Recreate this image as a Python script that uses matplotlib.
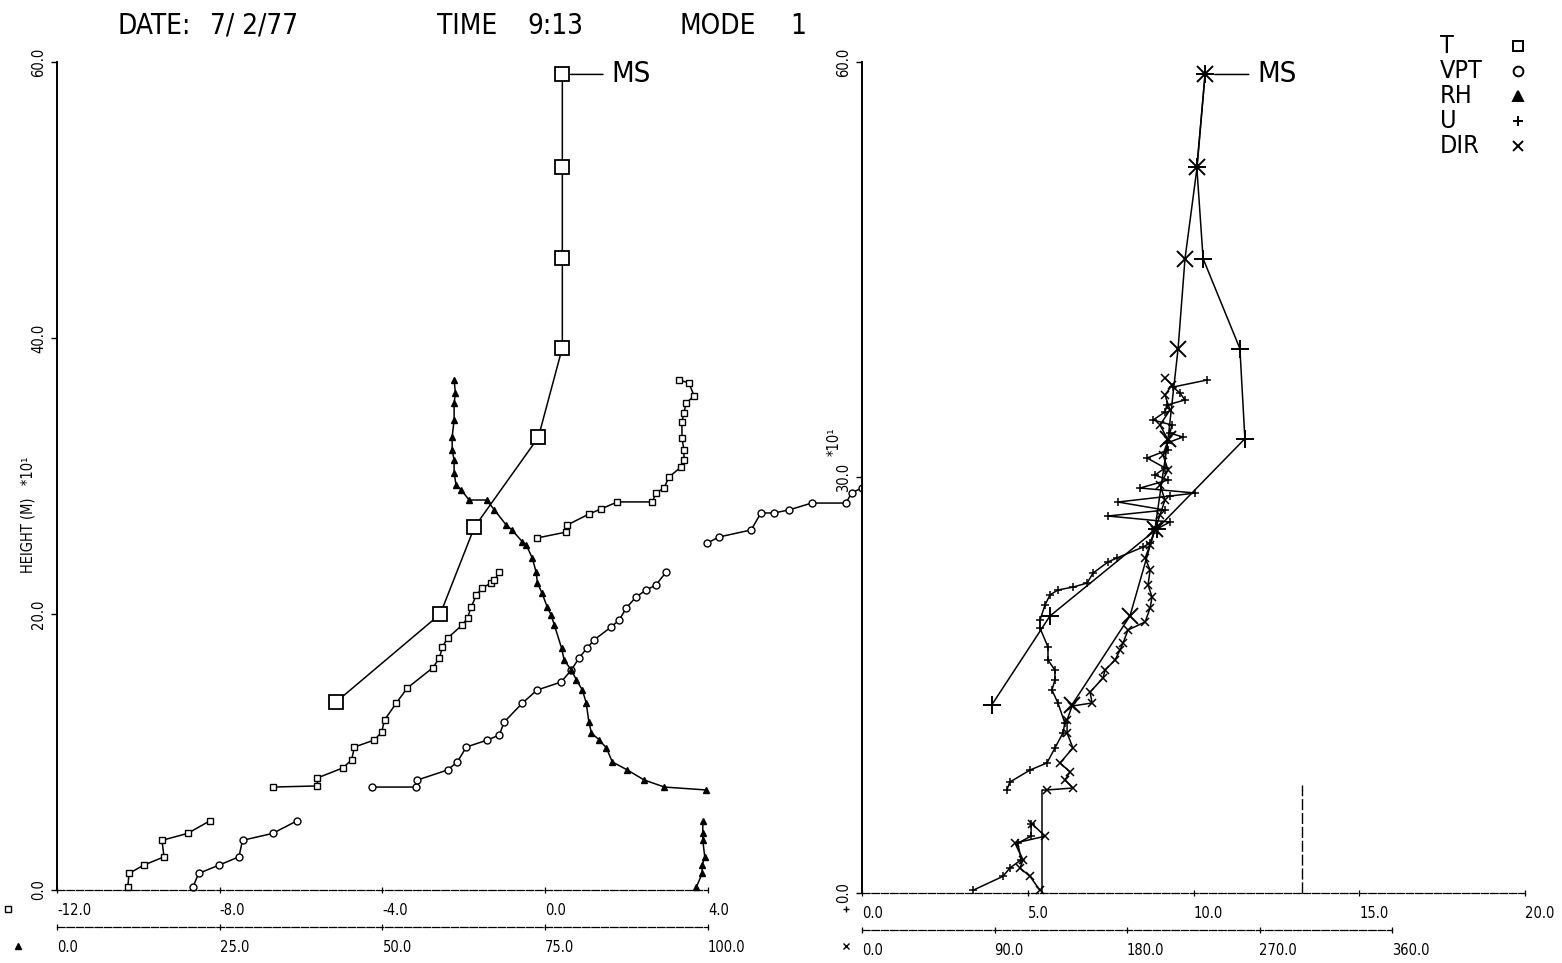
import matplotlib
matplotlib.use('Agg')
import matplotlib.pyplot as plt
from matplotlib.lines import Line2D

plt.rcParams['font.family'] = ['DejaVu Sans']
plt.rcParams['font.stretch'] = 'condensed'

W, H = 1562, 963

# ---------------- data ----------------
# main (mast / sonde "MS") levels, height *10 m
H_MS = [59.1, 52.4, 45.8, 39.3, 32.8, 26.3, 20.0, 13.6]
T_MS = [0.42, 0.42, 0.42, 0.42, -0.17, -1.74, -2.58, -5.15]
U_MS = [10.35, 10.1, 10.29, 11.4, 11.55, 8.9, 5.67, 3.92]
DIR_MS = [233.0, 227.6, 219.4, 214.7, 207.9, 199.0, 182.0, 142.7]

# tower levels
H_TOWER = [0.2, 1.2, 1.8, 2.4, 3.6, 4.1, 5.0]
T_TOWER = [-10.26, -10.23, -9.87, -9.37, -9.42, -8.79, -8.25]
VPT_TOWER = [-8.66, -8.52, -8.02, -7.53, -7.44, -6.70, -6.11]
RH_TOWER = [98.2, 99.1, 99.1, 99.5, 99.2, 99.2, 99.2]
U_TOWER = [3.35, 4.25, 4.46, 4.8, 4.7, 5.1, 5.1]
DIR_TOWER = [120.9, 114.1, 107.3, 109.4, 103.9, 124.3, 115.5]

# tethersonde, lower part
H_T_LOW = [7.46, 7.54, 8.12, 8.84, 9.42, 10.36, 10.87, 11.45, 12.32, 13.55, 14.64,
           16.09, 16.81, 17.61, 18.26, 19.2, 19.71, 20.51, 21.38, 21.88, 22.25, 22.46, 23.04]
T_LOW = [-6.70, -5.60, -5.60, -4.98, -4.76, -4.69, -4.20, -4.02, -3.95, -3.66, -3.39,
         -2.77, -2.60, -2.53, -2.40, -2.04, -1.91, -1.82, -1.69, -1.55, -1.33, -1.25, -1.13]
H_T_UP = [25.51, 25.94, 26.45, 27.25, 27.61, 28.12, 28.12, 28.77, 29.13, 29.93, 30.65,
          31.16, 31.88, 32.75, 33.91, 34.57, 35.29, 35.80, 36.74, 36.96]
T_UP = [-0.20, 0.52, 0.54, 1.08, 1.37, 1.77, 2.63, 2.72, 2.92, 3.04, 3.34,
        3.41, 3.41, 3.36, 3.36, 3.41, 3.46, 3.66, 3.53, 3.29]

H_VPT_LOW = [7.46, 7.46, 7.97, 8.70, 9.28, 10.36, 10.87, 11.23, 12.17, 13.55, 14.49,
             15.07, 15.94, 16.81, 17.54, 18.12, 19.06, 19.57, 20.43, 21.23, 21.74, 22.10, 23.04]
VPT_LOW = [-4.27, -3.17, -3.14, -2.40, -2.16, -1.94, -1.42, -1.13, -1.01, -0.56, -0.20,
           0.39, 0.64, 0.83, 1.03, 1.20, 1.62, 1.82, 1.99, 2.23, 2.48, 2.72, 2.97]
H_VPT_UP = [25.14, 25.58, 26.09, 27.32, 27.32, 27.54, 28.04, 28.04, 28.77, 29.13, 30.07,
            30.80, 31.88, 32.75, 34.28, 35.29, 36.01, 36.96, 37.10]
VPT_UP = [3.98, 4.27, 5.06, 5.30, 5.62, 5.99, 6.55, 7.39, 7.53, 7.78, 8.02,
          8.44, 8.64, 8.69, 8.81, 8.98, 9.18, 9.01, 9.23]

H_RH = [7.25, 7.46, 7.97, 8.70, 9.28, 10.29, 10.87, 11.38, 12.17, 13.55, 14.49, 15.22,
        15.94, 16.67, 17.54, 19.20, 19.93, 20.51, 21.52, 22.25, 23.04, 24.06, 25.0, 25.22,
        26.09, 26.45, 27.54, 28.26, 28.26, 28.99, 29.35, 30.22, 31.16, 31.88, 32.83,
        34.06, 35.29, 36.01, 36.96]
RH = [99.7, 93.3, 90.2, 87.6, 85.3, 84.4, 83.3, 82.1, 81.7, 81.3, 80.7, 79.8,
      79.0, 77.9, 77.5, 76.4, 75.9, 75.3, 74.5, 73.8, 73.6, 73.0, 72.1, 71.5,
      69.9, 69.0, 67.2, 66.0, 63.3, 62.1, 61.3, 61.0, 61.0, 60.7, 60.7,
      61.0, 61.0, 61.2, 61.0]

H_U = [7.44, 8.01, 8.88, 9.39, 10.47, 11.55, 12.27, 13.72, 14.66, 15.38, 16.1, 16.82,
       17.76, 19.13, 19.71, 20.79, 21.52, 21.88, 22.09, 22.38, 23.1, 23.9, 24.19, 24.98,
       25.27, 26.21, 26.79, 27.22, 27.65, 28.23, 28.66, 28.88, 29.24, 29.82, 30.18,
       30.69, 31.41, 31.99, 32.49, 32.92, 33.21, 33.79, 34.15, 34.73, 35.23, 35.6,
       36.1, 36.53, 37.04]
U = [4.37, 4.46, 5.07, 5.58, 5.82, 6.06, 6.12, 5.91, 5.73, 5.82, 5.82, 5.61,
     5.61, 5.37, 5.37, 5.52, 5.67, 5.91, 6.37, 6.79, 6.97, 7.42, 7.69, 8.48,
     8.69, 8.84, 9.29, 7.42, 9.14, 7.72, 9.29, 10.05, 8.39, 9.23, 8.84,
     9.14, 8.60, 9.23, 9.20, 9.68, 9.29, 9.35, 8.78, 9.14, 9.20, 9.74,
     9.59, 9.38, 10.41]

H_DIR = [7.44, 7.58, 8.16, 8.74, 9.39, 10.47, 11.55, 12.49, 13.5, 13.72, 14.51, 15.52,
         16.1, 16.82, 17.55, 18.05, 18.99, 19.57, 20.58, 21.37, 22.24, 23.32, 24.19,
         25.13, 26.21, 27.29, 28.38, 29.46, 30.54, 31.62, 32.71, 33.79, 34.87, 35.96,
         36.68, 37.18]
DIR = [125.7, 143.3, 137.9, 141.3, 134.5, 143.3, 139.3, 139.3, 142.7, 156.3, 154.9, 163.7,
       165.1, 171.9, 175.3, 177.3, 180.7, 192.3, 195.7, 197.0, 194.3, 195.7, 192.3,
       195.7, 199.0, 202.4, 205.8, 202.4, 207.9, 204.5, 207.9, 202.4, 209.2, 205.8,
       210.6, 205.8]

H_DIR_LINK = [0.0, 7.44]
DIR_LINK = [122.3, 122.3]
H_UREF = [0.0, 7.8]
U_REF = [13.27, 13.27]

T_TICKS = [-12, -8, -4, 0, 4]
T_LABELS = ['-12.0', '-8.0', '-4.0', '0.0', '4.0']
RH_TICKS = [0, 25, 50, 75, 100]
RH_LABELS = ['0.0', '25.0', '50.0', '75.0', '100.0']
U_TICKS = [0, 5, 10, 15, 20]
U_LABELS = ['0.0', '5.0', '10.0', '15.0', '20.0']
DIR_TICKS = [0, 90, 180, 270, 360]
DIR_LABELS = ['0.0', '90.0', '180.0', '270.0', '360.0']
HL_TICKS = [0, 20, 40, 60]
HL_LABELS = ['0.0', '20.0', '40.0', '60.0']
HR_TICKS = [0, 30, 60]
HR_LABELS = ['0.0', '30.0', '60.0']

LEGEND_NAMES = ['T', 'VPT', 'RH', 'U', 'DIR']
LEGEND_MARKERS = ['s', 'o', '^', '+', 'x']

# ---------------- figure ----------------
fig = plt.figure(figsize=(W / 100, H / 100), dpi=100)
fig.patch.set_facecolor('white')


def fx(x):
    return x / W


def fy(y):
    return 1 - y / H


K = 'black'
LW = 1.1
small = dict(color=K, lw=LW, ms=5, mfc='white', mec=K, mew=1.0, clip_on=False)

# left panel
rectL = [fx(57), fy(890), (708 - 57) / W, (890 - 62) / H]
axL = fig.add_axes(rectL)
axL.set_xlim(-12, 4)
axL.set_ylim(0, 60)
axRH = fig.add_axes(rectL)
axRH.set_xlim(0, 100)
axRH.set_ylim(0, 60)
axRH.patch.set_visible(False)

# right panel
rectR = [fx(862), fy(893), (1525 - 862) / W, (893 - 62) / H]
axR = fig.add_axes(rectR)
axR.set_xlim(0, 20)
axR.set_ylim(0, 60)
axD = fig.add_axes([fx(862), fy(893), (1392 - 862) / W, (893 - 62) / H])
axD.set_xlim(0, 360)
axD.set_ylim(0, 60)
axD.patch.set_visible(False)

for a in (axL, axR):
    a.spines['top'].set_visible(False)
    a.spines['right'].set_visible(False)
    a.spines['left'].set_linewidth(1.4)
    a.spines['bottom'].set_linewidth(0.9)
    a.spines['bottom'].set_linestyle((0, (6, 1.5)))

for a, hpx in ((axRH, 828), (axD, 831)):
    for s in ('top', 'right', 'left'):
        a.spines[s].set_visible(False)
    a.spines['bottom'].set_position(('axes', -37 / hpx))
    a.spines['bottom'].set_linewidth(0.9)
    a.spines['bottom'].set_linestyle((0, (6, 1.5)))
    a.set_yticks([])

tick_font = dict(fontsize=10.5)


def set_xt(a, ticks, labels):
    a.set_xticks(ticks)
    a.set_xticklabels(labels, **tick_font)
    for lab in a.get_xticklabels():
        lab.set_ha('left')
    a.tick_params(axis='x', direction='inout', length=5, width=0.9, pad=7)


set_xt(axL, T_TICKS, T_LABELS)
set_xt(axRH, RH_TICKS, RH_LABELS)
set_xt(axR, U_TICKS, U_LABELS)
set_xt(axD, DIR_TICKS, DIR_LABELS)

axL.set_yticks(HL_TICKS)
axL.set_yticklabels(HL_LABELS, rotation=90, va='center', fontsize=10.5)
axL.tick_params(axis='y', direction='out', length=4, width=1, pad=4)
axR.set_yticks(HR_TICKS)
axR.set_yticklabels(HR_LABELS, rotation=90, va='center', fontsize=10.5)
axR.tick_params(axis='y', direction='out', length=4, width=1, pad=4)

# ---- left panel data ----
axL.plot(T_MS, H_MS, color=K, lw=LW, marker='s', ms=10, mfc='white', mec=K, mew=1.3, clip_on=False)
axL.annotate('MS', xy=(T_MS[0], H_MS[0]), xytext=(49, 0), textcoords='offset pixels',
             ha='left', va='center', fontsize=21,
             arrowprops=dict(arrowstyle='-', color=K, lw=1.1, shrinkA=4, shrinkB=6))
axL.plot(T_TOWER, H_TOWER, marker='s', **small)
axL.plot(VPT_TOWER, H_TOWER, marker='o', **small)
axL.plot(T_LOW, H_T_LOW, marker='s', **small)
axL.plot(T_UP, H_T_UP, marker='s', **small)
axL.plot(VPT_LOW, H_VPT_LOW, marker='o', **small)
axL.plot(VPT_UP, H_VPT_UP, marker='o', **small)
axRH.plot(RH_TOWER, H_TOWER, color=K, lw=LW, marker='^', ms=4.5, mfc=K, mec=K, clip_on=False)
axRH.plot(RH, H_RH, color=K, lw=LW, marker='^', ms=4.5, mfc=K, mec=K, clip_on=False)

# ---- right panel data ----
axR.plot(U_MS, H_MS, color=K, lw=LW, marker='+', ms=13, mew=1.4, clip_on=False)
axD.plot(DIR_MS, H_MS, color=K, lw=LW, marker='x', ms=11, mew=1.4, clip_on=False)
axR.annotate('MS', xy=(U_MS[0], H_MS[0]), xytext=(52, 0), textcoords='offset pixels',
             ha='left', va='center', fontsize=21,
             arrowprops=dict(arrowstyle='-', color=K, lw=1.1, shrinkA=4, shrinkB=7))
axR.plot(U_TOWER, H_TOWER, color=K, lw=LW, marker='+', ms=6, mew=1.1, clip_on=False)
axR.plot(U, H_U, color=K, lw=LW, marker='+', ms=6, mew=1.1, clip_on=False)
axD.plot(DIR_TOWER, H_TOWER, color=K, lw=LW, marker='x', ms=5.5, mew=1.1, clip_on=False)
axD.plot(DIR_LINK + [DIR[0]], H_DIR_LINK + [H_DIR[0]], color=K, lw=LW, clip_on=False)
axD.plot(DIR, H_DIR, color=K, lw=LW, marker='x', ms=5.5, mew=1.1, clip_on=False)
axR.plot(U_REF, H_UREF, color=K, lw=1.0, ls=(0, (8, 2)), clip_on=False)

# ---- texts ----
title_parts = [('DATE:', 117), ('7/ 2/77', 210), ('TIME', 437), ('9:13', 527), ('MODE', 680), ('1', 790)]
for txt, x in title_parts:
    fig.text(fx(x), fy(26), txt, ha='left', va='center', fontsize=20)

fig.text(fx(28), fy(515), 'HEIGHT (M)   *10¹', rotation=90, ha='center', va='center', fontsize=10.5)
fig.text(fx(834), fy(442), '*10¹', rotation=90, ha='center', va='center', fontsize=10.5)

# axis-row symbols
for (x, y, m, fill) in [(8, 909, 's', 'white'), (18, 946, '^', K),
                        (846, 909, '+', K), (846, 946, 'x', K)]:
    fig.add_artist(Line2D([fx(x)], [fy(y)], marker=m, ms=4.5, mfc=fill, mec=K, mew=1.0,
                          color=K, transform=fig.transFigure))

# legend
for i, (name, m) in enumerate(zip(LEGEND_NAMES, LEGEND_MARKERS)):
    y = 46 + i * 25
    fig.text(fx(1440), fy(y), name, ha='left', va='center', fontsize=18)
    fig.add_artist(Line2D([fx(1518)], [fy(y)], marker=m, ms=7,
                          mfc=(K if m == '^' else 'white'), mec=K, mew=1.4,
                          color=K, transform=fig.transFigure))

fig.savefig('out.png', dpi=100, facecolor='white')
